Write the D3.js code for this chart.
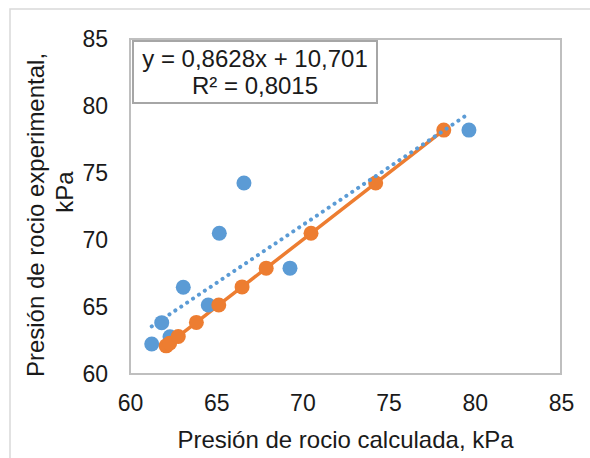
<!DOCTYPE html>
<html><head><meta charset="utf-8">
<script src="https://cdn.jsdelivr.net/npm/d3@7/dist/d3.min.js"></script>
<style>
body{margin:0;background:#fff;}
svg{display:block;font-family:"Liberation Sans",Arial,sans-serif;}
</style></head>
<body><svg id="c" width="590" height="458"></svg>
<script>
const calcX = [61.26, 62.32, 61.84, 63.09, 64.54, 65.18, 69.28, 66.61, 79.66];
const expY  = [62.24, 62.78, 63.83, 66.47, 65.15, 70.50, 67.90, 74.25, 78.20];
const refLine = [62.1, 62.3, 62.8, 63.85, 65.15, 66.5, 67.9, 70.5, 74.25, 78.2];
const ticks = [60, 65, 70, 75, 80, 85];
const slope = 0.8628, intercept = 10.701;
const eqText = ["y = 0,8628x + 10,701", "R² = 0,8015"];
const xTitle = "Presión de rocio calculada, kPa";
const yTitle = ["Presión de rocio experimental,", "kPa"];

const svg = d3.select("#c");
const L = 130, R = 561, T = 39, B = 374;
const x = d3.scaleLinear().domain([60, 85]).range([L, R]);
const y = d3.scaleLinear().domain([60, 85]).range([B, T]);
const blue = "#5B9BD5", orange = "#ED7D31", txt = "#1a1a1a";

// outer chart border
svg.append("rect").attr("x", 10).attr("y", 9).attr("width", 600).attr("height", 480)
  .attr("fill", "none").attr("stroke", "#d9d9d9").attr("stroke-width", 1.5);
// plot area border
svg.append("rect").attr("x", L).attr("y", T).attr("width", R - L).attr("height", B - T)
  .attr("fill", "none").attr("stroke", "#bfbfbf").attr("stroke-width", 2);

// axes (labels only)
const xAxis = svg.append("g").attr("transform", `translate(0,${B})`)
  .call(d3.axisBottom(x).tickValues(ticks).tickSize(0).tickPadding(21).tickFormat(d3.format("d")));
const yAxis = svg.append("g").attr("transform", `translate(${L},0)`)
  .call(d3.axisLeft(y).tickValues(ticks).tickSize(0).tickPadding(22).tickFormat(d3.format("d")));
[xAxis, yAxis].forEach(g => {
  g.select(".domain").remove();
  g.selectAll("text").attr("font-size", 23).attr("fill", txt)
    .attr("font-family", "Liberation Sans, Arial, sans-serif");
});

// orange reference line
const line = d3.line().x(d => x(d)).y(d => y(d));
svg.append("path").datum(refLine).attr("d", line).attr("fill", "none")
  .attr("stroke", orange).attr("stroke-width", 3.5);

// blue points
svg.append("g").selectAll("circle").data(calcX.map((v, i) => [v, expY[i]])).join("circle")
  .attr("cx", d => x(d[0])).attr("cy", d => y(d[1])).attr("r", 7.5).attr("fill", blue);

// orange markers
svg.append("g").selectAll("circle").data(refLine).join("circle")
  .attr("cx", d => x(d)).attr("cy", d => y(d)).attr("r", 7.5).attr("fill", orange);

// trendline dotted
const xMin = d3.min(calcX), xMax = d3.max(calcX);
svg.append("line")
  .attr("x1", x(xMin)).attr("y1", y(slope * xMin + intercept))
  .attr("x2", x(xMax)).attr("y2", y(slope * xMax + intercept))
  .attr("stroke", blue).attr("stroke-width", 4).attr("stroke-linecap", "round")
  .attr("stroke-dasharray", "0.1 7");

// equation box
svg.append("rect").attr("x", 133).attr("y", 41).attr("width", 244).attr("height", 62)
  .attr("fill", "#fff").attr("stroke", "#a6a6a6").attr("stroke-width", 2);
svg.append("g").selectAll("text").data(eqText).join("text")
  .attr("x", 255).attr("y", (d, i) => 67 + i * 27).attr("text-anchor", "middle")
  .attr("font-size", 24).attr("fill", txt).text(d => d);

// axis titles
svg.append("text").attr("x", (L + R) / 2).attr("y", 448).attr("text-anchor", "middle")
  .attr("font-size", 24).attr("fill", txt).text(xTitle);
svg.append("text").attr("transform", "translate(44,215) rotate(-90)").attr("text-anchor", "middle")
  .attr("font-size", 24).attr("fill", txt).text(yTitle[0]);
svg.append("text").attr("transform", "translate(73,192) rotate(-90)").attr("text-anchor", "middle")
  .attr("font-size", 24).attr("fill", txt).text(yTitle[1]);
</script></body></html>
